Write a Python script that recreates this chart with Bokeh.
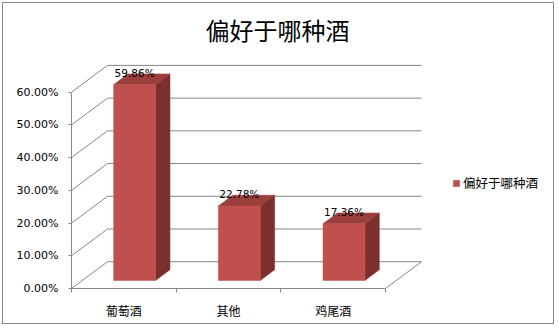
from bokeh.plotting import figure
from bokeh.models import Range1d, FixedTicker, NumeralTickFormatter, ColumnDataSource
from bokeh.core.properties import value
from bokeh.embed import file_html
from bokeh.resources import INLINE

# ---- data ----
title_text = "偏好于哪种酒"
series_name = "偏好于哪种酒"
categories = ["葡萄酒", "其他", "鸡尾酒"]
values = [0.5986, 0.2278, 0.1736]
value_labels = ["59.86%", "22.78%", "17.36%"]
y_ticks = [0.0, 0.1, 0.2, 0.3, 0.4, 0.5, 0.6]

# ---- geometry / style ----
W, H = 552, 322
LEFT, RIGHT, TOP, BOTTOM = 68, 2, 47, 37
PX_X = 104.67          # pixels per category
PX_Y = 330.0           # pixels per unit (100%)
DX = 36 / PX_X         # depth offset in x data units
DY = 27 / PX_Y         # depth offset in y data units
F0, F1 = 0.3, 0.7      # bar depth span (fraction of floor depth)
BAR_W = 0.40
GRID = "#868686"
FRONT, SIDE, TOPC = "#C0504D", "#7B302E", "#9B3F3C"

n = len(categories)
frame_w = W - LEFT - RIGHT
frame_h = H - TOP - BOTTOM

p = figure(width=W, height=H, output_backend="svg", toolbar_location=None,
           x_range=Range1d(0, frame_w / PX_X), y_range=Range1d(0, frame_h / PX_Y),
           min_border_left=LEFT, min_border_right=RIGHT,
           min_border_top=TOP, min_border_bottom=BOTTOM)
p.margin = (2, 0, 0, 2)
p.styles = {"border": "1px solid #868686"}
p.outline_line_color = None
p.xgrid.visible = False
p.ygrid.visible = False
p.background_fill_color = "white"
p.border_fill_color = "white"

# title
p.title.text = title_text
p.title.align = "left"
p.title.offset = 134
p.title.text_font = "Noto Sans CJK SC"
p.title.text_font_size = "24px"
p.title.text_font_style = "normal"
p.title.text_color = "black"
p.title.standoff = 12

# walls: left wall diagonals, back wall gridlines, floor right edge
p.segment(x0=[0] * len(y_ticks), y0=y_ticks,
          x1=[DX] * len(y_ticks), y1=[t + DY for t in y_ticks],
          line_color=GRID, line_width=1)
p.segment(x0=[DX] * len(y_ticks), y0=[t + DY for t in y_ticks],
          x1=[n + DX] * len(y_ticks), y1=[t + DY for t in y_ticks],
          line_color=GRID, line_width=1)
p.segment(x0=[n + DX], y0=[DY], x1=[n], y1=[0], line_color=GRID, line_width=1)

# bars
centers = [i + 0.5 for i in range(n)]
L0 = [c + F0 * DX - BAR_W / 2 for c in centers]
R0 = [c + F0 * DX + BAR_W / 2 for c in centers]
b0 = [F0 * DY] * n
t0 = [v + F0 * DY for v in values]
ddx, ddy = (F1 - F0) * DX, (F1 - F0) * DY

side_xs = [[r, r, r + ddx, r + ddx] for r in R0]
side_ys = [[b, t, t + ddy, b + ddy] for b, t in zip(b0, t0)]
top_xs = [[l, r, r + ddx, l + ddx] for l, r in zip(L0, R0)]
top_ys = [[t, t, t + ddy, t + ddy] for t in t0]

p.patches(xs=side_xs, ys=side_ys, fill_color=SIDE, line_color=SIDE, line_width=0.5)
p.patches(xs=top_xs, ys=top_ys, fill_color=TOPC, line_color=TOPC, line_width=0.5)
p.quad(left=L0, right=R0, bottom=b0, top=t0, fill_color=FRONT, line_color=FRONT,
       line_width=0.5, legend_label=series_name)

# value labels
lab_src = ColumnDataSource(dict(x=[c + F0 * DX for c in centers], y=t0, text=value_labels))
p.text(x="x", y="y", text="text", source=lab_src, text_align="center",
       text_baseline="middle", y_offset=-12, text_font=value("DejaVu Sans"),
       text_font_size="10.5px", text_color="black")

# y axis
ya = p.yaxis[0]
ya.ticker = FixedTicker(ticks=y_ticks)
ya.formatter = NumeralTickFormatter(format="0.00%")
ya.bounds = (y_ticks[0], y_ticks[-1])
ya.axis_line_color = GRID
ya.major_tick_line_color = GRID
ya.major_tick_out = 3
ya.major_tick_in = 0
ya.minor_tick_line_color = None
ya.major_label_standoff = 10
ya.major_label_text_font = "DejaVu Sans"
ya.major_label_text_font_size = "11px"
ya.major_label_text_color = "black"

# x axis
xa = p.xaxis[0]
xa.ticker = FixedTicker(ticks=centers, minor_ticks=list(range(n + 1)))
xa.major_label_overrides = {c: name for c, name in zip(centers, categories)}
xa.bounds = (0, n)
xa.axis_line_color = GRID
xa.major_tick_line_color = None
xa.major_tick_out = 0
xa.major_tick_in = 0
xa.minor_tick_line_color = GRID
xa.minor_tick_out = 4
xa.minor_tick_in = 0
xa.major_label_standoff = 9
xa.major_label_text_font = "Noto Sans CJK SC"
xa.major_label_text_font_size = "12px"
xa.major_label_text_color = "black"

# legend
lg = p.legend[0]
lg.location = (381, 96)
lg.padding = 0
lg.margin = 0
lg.spacing = 0
lg.glyph_width = 8
lg.glyph_height = 8
lg.label_standoff = 3
lg.label_height = 16
lg.label_text_font = "Noto Sans CJK SC"
lg.label_text_font_size = "12.5px"
lg.label_text_color = "black"
lg.border_line_color = None
lg.background_fill_alpha = 0

open("out.html", "w").write(file_html(p, INLINE))
